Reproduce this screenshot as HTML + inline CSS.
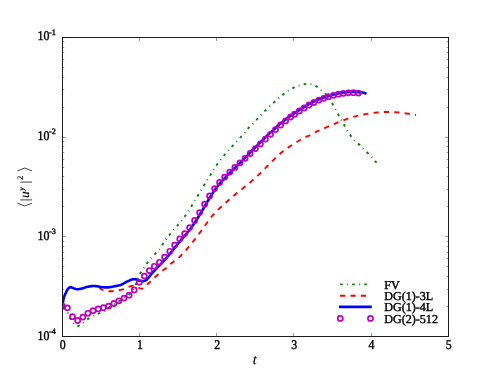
<!DOCTYPE html>
<html><head><meta charset="utf-8"><title>plot</title>
<style>
html,body{margin:0;padding:0;background:#fff;}
svg{display:block;will-change:transform;}
text{font-family:"Liberation Serif",serif;fill:#000;stroke:#000;stroke-width:0.4px;text-rendering:geometricPrecision;}
</style></head><body>
<svg width="498" height="374" viewBox="0 0 498 374">
<rect width="498" height="374" fill="#fff"/>
<defs><clipPath id="ax"><rect x="62.5" y="37.5" width="386.0" height="299.0"/></clipPath></defs>
<g clip-path="url(#ax)" fill="none" stroke-linejoin="round">

<path d="M62.25,306.00 L62.98,306.71 L63.69,307.43 L64.39,308.16 L65.06,308.91 L65.71,309.67 L66.33,310.45 L66.91,311.24 L67.47,312.05 L67.98,312.90 L68.44,313.79 L68.88,314.70 L69.30,315.64 L69.71,316.58 L70.11,317.53 L70.52,318.46 L70.94,319.38 L71.39,320.28 L71.87,321.13 L72.39,321.95 L72.97,322.71 L73.62,323.56 L74.34,324.44 L75.11,325.25 L75.91,325.89 L76.73,326.26 L77.54,326.26 L78.40,325.99 L79.29,325.53 L80.19,324.95 L81.09,324.30 L81.96,323.67 L82.80,323.10 L83.60,322.50 L84.37,321.87 L85.14,321.22 L85.91,320.58 L86.69,319.95 L87.50,319.36 L88.32,318.79 L89.15,318.24 L90.00,317.69 L90.85,317.17 L91.72,316.67 L92.59,316.20 L93.48,315.75 L94.39,315.33 L95.31,314.92 L96.23,314.52 L97.15,314.14 L98.08,313.77 L99.03,313.43 L100.00,313.12 L100.97,312.81 L101.92,312.48 L102.83,312.12 L103.70,311.69 L104.51,311.16 L105.29,310.55 L106.04,309.87 L106.79,309.18 L107.54,308.49 L108.32,307.84 L109.13,307.26 L109.96,306.71 L110.81,306.18 L111.66,305.66 L112.52,305.14 L113.38,304.62 L114.23,304.09 L115.08,303.57 L115.93,303.04 L116.78,302.51 L117.63,301.99 L118.48,301.46 L119.33,300.94 L120.18,300.41 L121.04,299.90 L121.90,299.38 L122.75,298.85 L123.59,298.32 L124.44,297.78 L125.30,297.25 L126.18,296.72 L127.04,296.18 L127.87,295.62 L128.64,295.01 L129.34,294.36 L130.00,293.66 L130.63,292.92 L131.25,292.13 L131.84,291.31 L132.41,290.47 L132.96,289.60 L133.49,288.72 L134.00,287.83 L134.49,286.94 L134.96,286.05 L135.42,285.17 L135.84,284.28 L136.24,283.37 L136.61,282.44 L136.97,281.50 L137.31,280.55 L137.65,279.59 L137.98,278.64 L138.33,277.69 L138.68,276.75 L139.06,275.82 L139.45,274.91 L139.88,274.02 L140.35,273.15 L140.88,272.31 L141.45,271.49 L142.04,270.67 L142.63,269.86 L143.21,269.04 L143.76,268.20 L144.30,267.36 L144.83,266.51 L145.37,265.67 L145.92,264.83 L146.48,264.01 L147.07,263.20 L147.68,262.41 L148.30,261.63 L148.93,260.85 L149.58,260.08 L150.23,259.32 L150.88,258.56 L151.54,257.81 L152.20,257.07 L152.88,256.33 L153.55,255.59 L154.23,254.86 L154.92,254.13 L155.60,253.39 L156.30,252.67 L157.01,251.96 L157.72,251.25 L158.41,250.53 L159.07,249.79 L159.68,249.01 L160.26,248.21 L160.81,247.38 L161.35,246.54 L161.87,245.68 L162.39,244.82 L162.89,243.95 L163.40,243.08 L163.92,242.21 L164.45,241.36 L164.99,240.52 L165.56,239.70 L166.15,238.90 L166.75,238.11 L167.37,237.32 L168.00,236.55 L168.64,235.78 L169.29,235.02 L169.94,234.26 L170.60,233.50 L171.26,232.74 L171.91,231.99 L172.57,231.23 L173.22,230.47 L173.87,229.70 L174.51,228.94 L175.16,228.18 L175.82,227.42 L176.47,226.66 L177.13,225.91 L177.78,225.15 L178.44,224.39 L179.08,223.63 L179.73,222.87 L180.36,222.10 L180.99,221.32 L181.61,220.54 L182.23,219.75 L182.83,218.96 L183.43,218.16 L184.03,217.35 L184.62,216.54 L185.21,215.73 L185.79,214.92 L186.36,214.10 L186.93,213.27 L187.49,212.45 L188.05,211.62 L188.60,210.79 L189.15,209.95 L189.68,209.10 L190.21,208.25 L190.73,207.40 L191.25,206.55 L191.78,205.69 L192.30,204.84 L192.82,203.99 L193.35,203.14 L193.87,202.28 L194.39,201.43 L194.91,200.58 L195.43,199.72 L195.95,198.87 L196.47,198.01 L196.98,197.16 L197.50,196.30 L198.01,195.44 L198.53,194.58 L199.04,193.73 L199.56,192.87 L200.07,192.01 L200.58,191.15 L201.09,190.29 L201.60,189.43 L202.10,188.56 L202.60,187.69 L203.10,186.83 L203.60,185.97 L204.12,185.11 L204.64,184.26 L205.17,183.41 L205.70,182.56 L206.23,181.72 L206.77,180.87 L207.30,180.02 L207.84,179.18 L208.38,178.34 L208.92,177.49 L209.45,176.65 L209.97,175.79 L210.47,174.93 L210.95,174.05 L211.41,173.16 L211.87,172.27 L212.34,171.39 L212.82,170.51 L213.34,169.66 L213.88,168.82 L214.45,168.00 L215.03,167.19 L215.62,166.38 L216.22,165.57 L216.82,164.77 L217.42,163.98 L218.04,163.19 L218.66,162.40 L219.28,161.62 L219.90,160.84 L220.52,160.05 L221.12,159.25 L221.73,158.45 L222.33,157.66 L222.93,156.86 L223.55,156.07 L224.17,155.29 L224.80,154.51 L225.44,153.74 L226.09,152.98 L226.74,152.22 L227.40,151.47 L228.06,150.72 L228.73,149.98 L229.41,149.25 L230.10,148.52 L230.79,147.79 L231.47,147.07 L232.16,146.34 L232.84,145.61 L233.53,144.88 L234.21,144.15 L234.89,143.42 L235.57,142.68 L236.25,141.95 L236.93,141.21 L237.60,140.47 L238.27,139.73 L238.95,138.99 L239.62,138.25 L240.29,137.52 L240.98,136.78 L241.67,136.06 L242.36,135.34 L243.05,134.61 L243.73,133.88 L244.40,133.14 L245.04,132.37 L245.65,131.58 L246.26,130.78 L246.86,129.98 L247.47,129.18 L248.11,128.42 L248.78,127.69 L249.49,126.98 L250.21,126.30 L250.95,125.62 L251.69,124.94 L252.41,124.24 L253.11,123.53 L253.80,122.80 L254.47,122.07 L255.15,121.33 L255.83,120.60 L256.51,119.87 L257.20,119.13 L257.88,118.40 L258.56,117.67 L259.24,116.94 L259.92,116.20 L260.61,115.47 L261.29,114.74 L261.98,114.02 L262.67,113.29 L263.36,112.57 L264.06,111.86 L264.76,111.14 L265.46,110.44 L266.17,109.73 L266.88,109.03 L267.60,108.33 L268.32,107.64 L269.04,106.94 L269.76,106.25 L270.49,105.57 L271.22,104.88 L271.95,104.20 L272.69,103.52 L273.43,102.85 L274.17,102.18 L274.91,101.50 L275.65,100.83 L276.39,100.15 L277.13,99.48 L277.88,98.81 L278.63,98.15 L279.39,97.50 L280.16,96.85 L280.93,96.21 L281.70,95.59 L282.49,94.98 L283.29,94.38 L284.09,93.78 L284.89,93.19 L285.71,92.59 L286.53,92.01 L287.35,91.43 L288.18,90.87 L289.02,90.32 L289.87,89.78 L290.73,89.26 L291.59,88.76 L292.46,88.28 L293.34,87.83 L294.23,87.39 L295.14,86.96 L296.06,86.56 L296.99,86.18 L297.93,85.83 L298.87,85.51 L299.82,85.17 L300.78,84.82 L301.75,84.51 L302.72,84.26 L303.70,84.12 L304.69,84.10 L305.68,84.11 L306.69,84.13 L307.70,84.17 L308.71,84.21 L309.70,84.26 L310.68,84.31 L311.67,84.46 L312.65,84.71 L313.62,85.05 L314.57,85.44 L315.48,85.85 L316.34,86.28 L317.15,86.80 L317.94,87.42 L318.69,88.09 L319.44,88.79 L320.19,89.49 L320.96,90.15 L321.75,90.77 L322.55,91.38 L323.36,92.00 L324.14,92.63 L324.88,93.28 L325.57,93.98 L326.22,94.71 L326.85,95.47 L327.45,96.26 L328.04,97.07 L328.62,97.90 L329.18,98.74 L329.73,99.59 L330.27,100.45 L330.80,101.30 L331.34,102.16 L331.87,103.01 L332.39,103.86 L332.90,104.72 L333.40,105.58 L333.89,106.45 L334.38,107.33 L334.86,108.21 L335.34,109.08 L335.83,109.96 L336.30,110.84 L336.77,111.72 L337.24,112.60 L337.71,113.48 L338.19,114.36 L338.67,115.24 L339.16,116.11 L339.64,116.99 L340.13,117.86 L340.62,118.74 L341.10,119.61 L341.59,120.48 L342.09,121.35 L342.58,122.22 L343.07,123.09 L343.56,123.96 L344.05,124.83 L344.53,125.71 L345.01,126.59 L345.48,127.48 L345.95,128.36 L346.44,129.23 L346.94,130.10 L347.46,130.95 L347.99,131.79 L348.54,132.63 L349.10,133.46 L349.67,134.28 L350.25,135.10 L350.84,135.91 L351.43,136.72 L352.03,137.52 L352.65,138.32 L353.28,139.09 L353.94,139.83 L354.63,140.54 L355.36,141.21 L356.12,141.87 L356.90,142.51 L357.66,143.16 L358.41,143.83 L359.13,144.52 L359.82,145.24 L360.50,145.98 L361.17,146.72 L361.85,147.46 L362.54,148.18 L363.25,148.89 L363.97,149.58 L364.71,150.25 L365.46,150.92 L366.20,151.59 L366.94,152.26 L367.66,152.95 L368.37,153.66 L369.08,154.36 L369.78,155.08 L370.47,155.80 L371.16,156.52 L371.84,157.26 L372.50,158.01 L373.15,158.78 L373.79,159.55 L374.43,160.32 L375.09,161.07 L375.78,161.78 L376.52,162.46 L377.29,163.09 L377.30,163.10" stroke="#008000" stroke-width="1.9" stroke-dasharray="2.59 4.32 0.86 4.32" stroke-dashoffset="-1.7"/>
<path d="M99.40,288.20 L100.28,288.70 L101.18,289.16 L102.09,289.58 L103.02,289.94 L103.96,290.25 L104.91,290.53 L105.89,290.81 L106.87,291.05 L107.86,291.22 L108.85,291.30 L109.85,291.29 L110.84,291.25 L111.85,291.19 L112.85,291.12 L113.85,291.04 L114.84,290.95 L115.83,290.81 L116.82,290.65 L117.80,290.46 L118.78,290.25 L119.76,290.04 L120.73,289.82 L121.71,289.57 L122.67,289.31 L123.63,289.02 L124.57,288.70 L125.50,288.32 L126.41,287.88 L127.31,287.43 L128.22,287.01 L129.15,286.67 L130.11,286.40 L131.09,286.14 L132.07,285.93 L133.06,285.81 L134.05,285.84 L135.06,286.00 L136.03,286.23 L136.95,286.55 L137.82,287.05 L138.69,287.60 L139.59,288.03 L140.54,288.40 L141.51,288.67 L142.48,288.63 L143.46,288.27 L144.30,287.82 L145.00,287.19 L145.65,286.40 L146.26,285.55 L146.90,284.73 L147.60,284.01 L148.35,283.35 L149.12,282.71 L149.89,282.07 L150.67,281.43 L151.42,280.77 L152.14,280.09 L152.85,279.37 L153.54,278.65 L154.24,277.94 L154.95,277.24 L155.69,276.56 L156.43,275.89 L157.18,275.22 L157.93,274.57 L158.69,273.92 L159.46,273.27 L160.22,272.63 L160.99,271.99 L161.76,271.35 L162.54,270.72 L163.33,270.11 L164.13,269.51 L164.96,268.94 L165.79,268.38 L166.62,267.81 L167.41,267.22 L168.17,266.57 L168.87,265.86 L169.55,265.12 L170.23,264.37 L170.93,263.66 L171.68,263.02 L172.49,262.44 L173.33,261.90 L174.19,261.36 L175.04,260.83 L175.86,260.26 L176.64,259.64 L177.40,259.00 L178.14,258.33 L178.88,257.64 L179.60,256.94 L180.31,256.23 L181.01,255.52 L181.70,254.80 L182.39,254.08 L183.08,253.35 L183.75,252.61 L184.42,251.87 L185.08,251.11 L185.73,250.36 L186.38,249.60 L187.03,248.83 L187.68,248.07 L188.32,247.30 L188.97,246.54 L189.61,245.77 L190.25,245.01 L190.89,244.24 L191.53,243.46 L192.16,242.69 L192.79,241.91 L193.42,241.14 L194.04,240.35 L194.67,239.57 L195.28,238.78 L195.90,237.99 L196.51,237.20 L197.11,236.41 L197.71,235.60 L198.30,234.80 L198.89,233.99 L199.48,233.18 L200.06,232.37 L200.64,231.56 L201.23,230.74 L201.81,229.93 L202.39,229.12 L202.98,228.31 L203.57,227.50 L204.16,226.69 L204.75,225.89 L205.34,225.08 L205.92,224.26 L206.51,223.45 L207.09,222.63 L207.67,221.81 L208.26,221.00 L208.85,220.19 L209.45,219.39 L210.05,218.59 L210.66,217.80 L211.28,217.02 L211.92,216.25 L212.56,215.50 L213.22,214.75 L213.89,214.02 L214.58,213.29 L215.27,212.57 L215.98,211.85 L216.69,211.14 L217.40,210.44 L218.12,209.74 L218.84,209.04 L219.55,208.35 L220.28,207.66 L221.00,206.97 L221.73,206.29 L222.47,205.61 L223.21,204.94 L223.95,204.26 L224.69,203.60 L225.44,202.93 L226.19,202.27 L226.94,201.60 L227.69,200.94 L228.44,200.28 L229.19,199.62 L229.94,198.96 L230.69,198.30 L231.45,197.64 L232.20,196.99 L232.96,196.33 L233.72,195.69 L234.49,195.04 L235.25,194.40 L236.02,193.76 L236.80,193.13 L237.58,192.51 L238.37,191.89 L239.16,191.28 L239.95,190.67 L240.74,190.06 L241.53,189.44 L242.32,188.83 L243.11,188.21 L243.89,187.59 L244.67,186.96 L245.44,186.33 L246.22,185.70 L246.99,185.06 L247.77,184.43 L248.54,183.79 L249.30,183.15 L250.07,182.50 L250.83,181.86 L251.59,181.21 L252.34,180.55 L253.09,179.89 L253.84,179.23 L254.59,178.56 L255.33,177.89 L256.07,177.21 L256.80,176.53 L257.53,175.85 L258.26,175.17 L258.99,174.48 L259.71,173.79 L260.43,173.10 L261.15,172.40 L261.86,171.70 L262.57,170.99 L263.28,170.29 L263.98,169.58 L264.69,168.87 L265.39,168.16 L266.09,167.44 L266.79,166.73 L267.50,166.02 L268.20,165.31 L268.90,164.60 L269.61,163.89 L270.31,163.17 L271.01,162.46 L271.70,161.74 L272.40,161.03 L273.11,160.31 L273.82,159.61 L274.53,158.91 L275.25,158.22 L275.97,157.52 L276.69,156.83 L277.42,156.14 L278.15,155.45 L278.89,154.77 L279.63,154.10 L280.38,153.43 L281.13,152.78 L281.90,152.15 L282.67,151.52 L283.46,150.91 L284.26,150.31 L285.06,149.72 L285.88,149.13 L286.70,148.55 L287.52,147.98 L288.35,147.42 L289.18,146.86 L290.01,146.30 L290.84,145.74 L291.67,145.19 L292.51,144.64 L293.35,144.10 L294.20,143.57 L295.04,143.04 L295.90,142.51 L296.75,141.99 L297.61,141.48 L298.47,140.97 L299.33,140.47 L300.20,139.97 L301.08,139.49 L301.95,139.01 L302.83,138.53 L303.71,138.06 L304.60,137.59 L305.49,137.14 L306.39,136.70 L307.31,136.30 L308.23,135.92 L309.16,135.53 L310.06,135.12 L310.95,134.66 L311.82,134.16 L312.68,133.65 L313.55,133.15 L314.43,132.68 L315.32,132.22 L316.21,131.78 L317.12,131.34 L318.02,130.92 L318.93,130.51 L319.85,130.12 L320.78,129.74 L321.70,129.36 L322.63,128.98 L323.55,128.59 L324.47,128.19 L325.38,127.79 L326.30,127.39 L327.21,126.99 L328.13,126.59 L329.05,126.19 L329.97,125.80 L330.89,125.41 L331.81,125.01 L332.73,124.62 L333.64,124.22 L334.56,123.81 L335.47,123.40 L336.39,123.00 L337.30,122.60 L338.23,122.23 L339.16,121.87 L340.10,121.52 L341.04,121.18 L341.98,120.83 L342.92,120.48 L343.85,120.13 L344.78,119.77 L345.72,119.41 L346.66,119.07 L347.60,118.73 L348.54,118.40 L349.49,118.06 L350.43,117.73 L351.38,117.41 L352.34,117.11 L353.29,116.82 L354.25,116.56 L355.22,116.32 L356.19,116.08 L357.16,115.86 L358.14,115.64 L359.12,115.44 L360.10,115.24 L361.09,115.04 L362.07,114.85 L363.05,114.67 L364.04,114.49 L365.02,114.30 L366.00,114.12 L366.99,113.94 L367.97,113.75 L368.96,113.57 L369.95,113.40 L370.93,113.24 L371.92,113.08 L372.91,112.94 L373.90,112.82 L374.89,112.71 L375.89,112.62 L376.88,112.52 L377.88,112.43 L378.87,112.34 L379.87,112.25 L380.87,112.18 L381.87,112.11 L382.87,112.06 L383.87,112.02 L384.87,112.00 L385.87,112.00 L386.87,112.01 L387.87,112.02 L388.87,112.04 L389.87,112.07 L390.87,112.10 L391.87,112.13 L392.87,112.17 L393.87,112.21 L394.87,112.25 L395.86,112.30 L396.86,112.35 L397.86,112.42 L398.86,112.50 L399.85,112.60 L400.85,112.70 L401.84,112.82 L402.84,112.94 L403.83,113.07 L404.82,113.20 L405.81,113.33 L406.80,113.47 L407.79,113.63 L408.77,113.80 L409.76,113.98 L410.74,114.17 L411.72,114.36 L412.71,114.54 L413.69,114.72 L414.68,114.88 L415.66,115.04 L416.00,115.10" stroke="#ff0000" stroke-width="1.9" stroke-dasharray="5.19 5.19" stroke-dashoffset="0.7"/>
<path d="M62.25,306.00 L62.43,305.02 L62.62,304.03 L62.81,303.05 L63.01,302.07 L63.19,301.09 L63.38,300.10 L63.57,299.11 L63.78,298.14 L64.03,297.18 L64.34,296.24 L64.70,295.30 L65.10,294.38 L65.53,293.47 L65.97,292.57 L66.41,291.65 L66.86,290.71 L67.34,289.79 L67.89,288.97 L68.52,288.29 L69.34,287.62 L70.27,287.21 L71.18,287.30 L72.13,287.63 L73.09,288.04 L74.06,288.39 L75.03,288.67 L76.00,288.95 L76.98,289.15 L77.96,289.19 L78.95,289.10 L79.94,288.91 L80.92,288.68 L81.90,288.44 L82.87,288.21 L83.83,287.92 L84.79,287.62 L85.74,287.31 L86.70,287.03 L87.67,286.81 L88.65,286.61 L89.64,286.42 L90.63,286.24 L91.63,286.10 L92.62,286.02 L93.61,286.00 L94.61,286.05 L95.61,286.13 L96.61,286.24 L97.60,286.35 L98.59,286.49 L99.58,286.68 L100.56,286.91 L101.54,287.12 L102.52,287.27 L103.52,287.32 L104.52,287.36 L105.52,287.38 L106.52,287.40 L107.52,287.40 L108.51,287.35 L109.50,287.24 L110.49,287.09 L111.48,286.92 L112.47,286.72 L113.45,286.51 L114.44,286.31 L115.42,286.12 L116.41,285.93 L117.40,285.72 L118.38,285.50 L119.36,285.26 L120.32,284.99 L121.25,284.69 L122.16,284.31 L123.02,283.82 L123.87,283.27 L124.74,282.74 L125.62,282.28 L126.52,281.84 L127.43,281.42 L128.34,281.01 L129.26,280.60 L130.18,280.15 L131.11,279.73 L132.06,279.42 L133.02,279.28 L134.02,279.22 L135.02,279.20 L136.00,279.36 L136.96,279.70 L137.90,280.05 L138.82,280.49 L139.75,280.85 L140.72,281.01 L141.72,281.13 L142.73,281.20 L143.71,281.12 L144.70,280.82 L145.63,280.39 L146.43,279.92 L147.15,279.28 L147.81,278.50 L148.45,277.67 L149.09,276.85 L149.74,276.09 L150.37,275.31 L150.99,274.53 L151.63,273.76 L152.28,273.00 L152.95,272.26 L153.63,271.53 L154.32,270.80 L155.01,270.07 L155.69,269.35 L156.38,268.62 L157.07,267.90 L157.76,267.18 L158.45,266.45 L159.14,265.73 L159.84,265.01 L160.53,264.29 L161.22,263.56 L161.91,262.84 L162.60,262.11 L163.29,261.39 L163.97,260.66 L164.66,259.94 L165.35,259.21 L166.03,258.47 L166.69,257.73 L167.34,256.97 L167.98,256.20 L168.62,255.43 L169.24,254.65 L169.87,253.87 L170.49,253.08 L171.12,252.30 L171.74,251.52 L172.37,250.74 L172.99,249.96 L173.61,249.17 L174.23,248.39 L174.85,247.61 L175.48,246.83 L176.10,246.04 L176.72,245.26 L177.34,244.48 L177.97,243.70 L178.60,242.92 L179.24,242.15 L179.88,241.38 L180.53,240.62 L181.18,239.87 L181.84,239.11 L182.50,238.36 L183.16,237.61 L183.83,236.87 L184.50,236.12 L185.16,235.37 L185.81,234.61 L186.46,233.85 L187.10,233.09 L187.73,232.31 L188.36,231.53 L188.98,230.75 L189.59,229.96 L190.19,229.16 L190.79,228.36 L191.38,227.55 L191.96,226.74 L192.54,225.92 L193.11,225.10 L193.67,224.27 L194.23,223.44 L194.79,222.61 L195.34,221.77 L195.88,220.93 L196.42,220.09 L196.96,219.25 L197.49,218.40 L198.02,217.56 L198.55,216.71 L199.07,215.86 L199.60,215.00 L200.11,214.15 L200.63,213.29 L201.14,212.43 L201.65,211.57 L202.16,210.71 L202.67,209.85 L203.17,208.99 L203.68,208.12 L204.18,207.26 L204.68,206.39 L205.18,205.53 L205.69,204.66 L206.19,203.80 L206.69,202.93 L207.19,202.07 L207.70,201.21 L208.20,200.34 L208.71,199.48 L209.23,198.63 L209.75,197.77 L210.27,196.92 L210.80,196.07 L211.33,195.22 L211.87,194.38 L212.41,193.54 L212.97,192.71 L213.52,191.88 L214.09,191.05 L214.66,190.23 L215.25,189.42 L215.84,188.62 L216.44,187.82 L217.05,187.02 L217.67,186.24 L218.30,185.46 L218.93,184.69 L219.58,183.92 L220.23,183.16 L220.88,182.41 L221.55,181.66 L222.22,180.92 L222.90,180.19 L223.58,179.45 L224.26,178.72 L224.95,177.99 L225.64,177.27 L226.33,176.55 L227.02,175.83 L227.71,175.10 L228.41,174.38 L229.11,173.67 L229.81,172.96 L230.51,172.25 L231.22,171.54 L231.94,170.84 L232.65,170.14 L233.37,169.44 L234.08,168.75 L234.80,168.05 L235.52,167.36 L236.24,166.67 L236.97,165.97 L237.69,165.28 L238.40,164.58 L239.12,163.89 L239.84,163.19 L240.56,162.50 L241.27,161.79 L241.97,161.08 L242.68,160.37 L243.37,159.65 L244.07,158.93 L244.76,158.21 L245.44,157.48 L246.12,156.75 L246.80,156.02 L247.48,155.28 L248.14,154.53 L248.81,153.79 L249.50,153.06 L250.20,152.35 L250.91,151.64 L251.62,150.94 L252.34,150.24 L253.05,149.54 L253.76,148.84 L254.47,148.14 L255.19,147.44 L255.90,146.73 L256.61,146.03 L257.33,145.33 L258.04,144.63 L258.75,143.93 L259.46,143.22 L260.16,142.51 L260.87,141.80 L261.57,141.09 L262.27,140.38 L262.97,139.67 L263.68,138.96 L264.39,138.26 L265.12,137.57 L265.85,136.89 L266.59,136.21 L267.32,135.53 L268.05,134.85 L268.78,134.17 L269.52,133.49 L270.25,132.81 L270.98,132.12 L271.71,131.44 L272.44,130.76 L273.17,130.08 L273.91,129.40 L274.64,128.72 L275.38,128.04 L276.11,127.37 L276.86,126.70 L277.60,126.03 L278.35,125.36 L279.10,124.71 L279.87,124.06 L280.64,123.43 L281.42,122.80 L282.20,122.18 L282.98,121.56 L283.77,120.94 L284.56,120.33 L285.35,119.71 L286.14,119.10 L286.93,118.49 L287.73,117.88 L288.53,117.29 L289.34,116.70 L290.15,116.11 L290.97,115.54 L291.79,114.97 L292.62,114.42 L293.46,113.86 L294.29,113.31 L295.13,112.76 L295.96,112.21 L296.79,111.65 L297.63,111.11 L298.47,110.56 L299.31,110.03 L300.16,109.49 L301.01,108.96 L301.86,108.43 L302.71,107.91 L303.56,107.38 L304.41,106.85 L305.26,106.33 L306.11,105.81 L306.97,105.30 L307.84,104.80 L308.71,104.31 L309.59,103.83 L310.47,103.37 L311.37,102.93 L312.27,102.49 L313.17,102.04 L314.06,101.60 L314.96,101.15 L315.86,100.72 L316.76,100.29 L317.67,99.87 L318.58,99.47 L319.51,99.09 L320.45,98.74 L321.39,98.39 L322.33,98.06 L323.27,97.73 L324.22,97.41 L325.17,97.09 L326.12,96.77 L327.06,96.46 L328.02,96.15 L328.97,95.85 L329.93,95.57 L330.89,95.29 L331.86,95.03 L332.82,94.77 L333.79,94.53 L334.77,94.30 L335.74,94.08 L336.72,93.86 L337.70,93.65 L338.67,93.45 L339.65,93.25 L340.64,93.06 L341.62,92.88 L342.61,92.71 L343.60,92.57 L344.59,92.44 L345.58,92.32 L346.58,92.23 L347.57,92.15 L348.57,92.09 L349.57,92.04 L350.57,92.01 L351.57,91.99 L352.57,91.99 L353.57,92.01 L354.57,92.04 L355.57,92.09 L356.56,92.17 L357.56,92.27 L358.56,92.33 L359.56,92.38 L360.56,92.41 L361.56,92.47 L362.54,92.56 L363.52,92.76 L364.49,93.04 L365.30,93.30" stroke="#0000ff" stroke-width="2.59" stroke-linecap="square"/>
<g stroke="#bf00bf" stroke-width="1.73">
<circle cx="62.40" cy="306.20" r="2.55"/>
<circle cx="67.40" cy="307.85" r="2.55"/>
<circle cx="72.45" cy="316.70" r="2.55"/>
<circle cx="77.70" cy="320.50" r="2.55"/>
<circle cx="82.90" cy="317.10" r="2.55"/>
<circle cx="87.95" cy="313.30" r="2.55"/>
<circle cx="93.10" cy="310.70" r="2.55"/>
<circle cx="98.20" cy="308.90" r="2.55"/>
<circle cx="103.40" cy="307.70" r="2.55"/>
<circle cx="108.65" cy="306.10" r="2.55"/>
<circle cx="113.90" cy="303.50" r="2.55"/>
<circle cx="118.90" cy="300.80" r="2.55"/>
<circle cx="124.10" cy="298.10" r="2.55"/>
<circle cx="129.10" cy="295.20" r="2.55"/>
<circle cx="134.20" cy="290.00" r="2.55"/>
<circle cx="139.30" cy="282.30" r="2.55"/>
<circle cx="144.35" cy="276.10" r="2.55"/>
<circle cx="149.40" cy="270.55" r="2.55"/>
<circle cx="154.30" cy="266.30" r="2.55"/>
<circle cx="159.50" cy="262.30" r="2.55"/>
<circle cx="164.65" cy="257.10" r="2.55"/>
<circle cx="169.80" cy="251.30" r="2.55"/>
<circle cx="174.70" cy="245.10" r="2.55"/>
<circle cx="179.80" cy="239.00" r="2.55"/>
<circle cx="184.70" cy="233.60" r="2.55"/>
<circle cx="189.60" cy="227.60" r="2.55"/>
<circle cx="194.60" cy="220.50" r="2.55"/>
<circle cx="199.60" cy="212.60" r="2.55"/>
<circle cx="204.60" cy="204.20" r="2.55"/>
<circle cx="209.60" cy="195.90" r="2.55"/>
<circle cx="214.60" cy="188.60" r="2.55"/>
<circle cx="219.60" cy="182.50" r="2.55"/>
<circle cx="224.70" cy="177.10" r="2.55"/>
<circle cx="229.80" cy="172.10" r="2.55"/>
<circle cx="234.90" cy="167.40" r="2.55"/>
<circle cx="240.00" cy="162.80" r="2.55"/>
<circle cx="245.10" cy="158.30" r="2.55"/>
<circle cx="250.20" cy="153.50" r="2.55"/>
<circle cx="255.40" cy="148.60" r="2.55"/>
<circle cx="260.40" cy="143.90" r="2.55"/>
<circle cx="265.40" cy="139.10" r="2.55"/>
<circle cx="270.50" cy="134.30" r="2.55"/>
<circle cx="275.50" cy="129.60" r="2.55"/>
<circle cx="280.60" cy="125.00" r="2.55"/>
<circle cx="285.60" cy="120.90" r="2.55"/>
<circle cx="290.60" cy="117.00" r="2.55"/>
<circle cx="294.60" cy="114.20" r="2.55"/>
<circle cx="299.30" cy="111.00" r="2.55"/>
<circle cx="304.20" cy="107.90" r="2.55"/>
<circle cx="309.00" cy="105.00" r="2.55"/>
<circle cx="313.90" cy="102.50" r="2.55"/>
<circle cx="318.90" cy="100.10" r="2.55"/>
<circle cx="323.80" cy="98.30" r="2.55"/>
<circle cx="328.60" cy="96.70" r="2.55"/>
<circle cx="333.60" cy="95.30" r="2.55"/>
<circle cx="338.50" cy="94.20" r="2.55"/>
<circle cx="343.40" cy="93.30" r="2.55"/>
<circle cx="348.40" cy="92.80" r="2.55"/>
<circle cx="353.40" cy="92.70" r="2.55"/>
<circle cx="358.40" cy="93.05" r="2.55"/>
</g></g>
<path d="M62.5,336.5v-3.46M62.5,37.5v3.46M139.5,336.5v-3.46M139.5,37.5v3.46M216.5,336.5v-3.46M216.5,37.5v3.46M293.5,336.5v-3.46M293.5,37.5v3.46M371.5,336.5v-3.46M371.5,37.5v3.46M448.5,336.5v-3.46M448.5,37.5v3.46" stroke="#000" stroke-width="0.42" fill="none"/>
<path d="M62.5,336.5h3.46M448.5,336.5h-3.46M62.5,236.5h3.46M448.5,236.5h-3.46M62.5,137.5h3.46M448.5,137.5h-3.46M62.5,37.5h3.46M448.5,37.5h-3.46" stroke="#000" stroke-width="0.42" fill="none"/>
<path d="M62.5,306.5h1.73M448.5,306.5h-1.73M62.5,289.5h1.73M448.5,289.5h-1.73M62.5,276.5h1.73M448.5,276.5h-1.73M62.5,266.5h1.73M448.5,266.5h-1.73M62.5,258.5h1.73M448.5,258.5h-1.73M62.5,252.5h1.73M448.5,252.5h-1.73M62.5,246.5h1.73M448.5,246.5h-1.73M62.5,241.5h1.73M448.5,241.5h-1.73M62.5,206.5h1.73M448.5,206.5h-1.73M62.5,189.5h1.73M448.5,189.5h-1.73M62.5,176.5h1.73M448.5,176.5h-1.73M62.5,167.5h1.73M448.5,167.5h-1.73M62.5,159.5h1.73M448.5,159.5h-1.73M62.5,152.5h1.73M448.5,152.5h-1.73M62.5,146.5h1.73M448.5,146.5h-1.73M62.5,141.5h1.73M448.5,141.5h-1.73M62.5,107.5h1.73M448.5,107.5h-1.73M62.5,89.5h1.73M448.5,89.5h-1.73M62.5,77.5h1.73M448.5,77.5h-1.73M62.5,67.5h1.73M448.5,67.5h-1.73M62.5,59.5h1.73M448.5,59.5h-1.73M62.5,52.5h1.73M448.5,52.5h-1.73M62.5,47.5h1.73M448.5,47.5h-1.73M62.5,41.5h1.73M448.5,41.5h-1.73" stroke="#000" stroke-width="0.42" fill="none"/>
<rect x="62.5" y="37.5" width="386.0" height="299.0" fill="none" stroke="#111" stroke-width="0.95"/>
<text transform="translate(62.75,348.60) scale(0.9,1)" font-size="13.2" text-anchor="middle">0</text>
<text transform="translate(139.94,348.60) scale(0.9,1)" font-size="13.2" text-anchor="middle">1</text>
<text transform="translate(217.13,348.60) scale(0.9,1)" font-size="13.2" text-anchor="middle">2</text>
<text transform="translate(294.32,348.60) scale(0.9,1)" font-size="13.2" text-anchor="middle">3</text>
<text transform="translate(371.51,348.60) scale(0.9,1)" font-size="13.2" text-anchor="middle">4</text>
<text transform="translate(448.70,348.60) scale(0.9,1)" font-size="13.2" text-anchor="middle">5</text>
<text transform="translate(37.50,40.40) scale(0.9,1)" font-size="13.2" text-anchor="start">10</text>
<text transform="translate(49.00,34.60) scale(1.0,1)" font-size="8.2" text-anchor="start">-1</text>
<text transform="translate(37.50,140.13) scale(0.9,1)" font-size="13.2" text-anchor="start">10</text>
<text transform="translate(49.00,134.33) scale(1.0,1)" font-size="8.2" text-anchor="start">-2</text>
<text transform="translate(37.50,239.87) scale(0.9,1)" font-size="13.2" text-anchor="start">10</text>
<text transform="translate(49.00,234.07) scale(1.0,1)" font-size="8.2" text-anchor="start">-3</text>
<text transform="translate(37.50,339.60) scale(0.9,1)" font-size="13.2" text-anchor="start">10</text>
<text transform="translate(49.00,333.80) scale(1.0,1)" font-size="8.2" text-anchor="start">-4</text>
<text x="254.7" y="364.0" font-size="14.2" font-style="italic" text-anchor="middle" style="stroke-width:0.15px">t</text>
<g transform="translate(29.4,206.2) rotate(-90)">
<path d="M3.1,-12 L0.2,-4.65 L3.1,2.7 M35.3,-12 L38.2,-4.65 L35.3,2.7 M6.3,-9.1 V2.7 M24.1,-9.1 V2.7" stroke="#000" stroke-width="0.75" fill="none"/>
<text x="8.3" y="0" font-size="13.4" font-style="italic" style="stroke-width:0.1px">u</text>
<text x="15.4" y="-5.2" font-size="7.8" font-style="italic" style="stroke-width:0.1px">y</text>
<text x="26.4" y="-6.9" font-size="8.2" style="stroke-width:0.1px">2</text>
</g>
<g fill="none">
<path d="M340.1,284.4H370.5" stroke="#008000" stroke-width="1.9" stroke-dasharray="2.59 4.32 0.86 4.32"/>
<path d="M340.1,295.7H370.5" stroke="#ff0000" stroke-width="1.9" stroke-dasharray="5.19 5.19"/>
<path d="M340.3,306.9H370.5" stroke="#0000ff" stroke-width="2.59" stroke-linecap="square"/>
<g stroke="#bf00bf" stroke-width="1.73"><circle cx="340.3" cy="318.4" r="2.55"/><circle cx="370.5" cy="318.4" r="2.55"/></g>
</g>
<text x="384.2" y="288.5" font-size="12.1">FV</text>
<text x="384.2" y="299.8" font-size="12.1">DG(1)-3L</text>
<text x="384.2" y="311.1" font-size="12.1">DG(1)-4L</text>
<text x="384.2" y="322.5" font-size="12.1">DG(2)-512</text>
</svg></body></html>
